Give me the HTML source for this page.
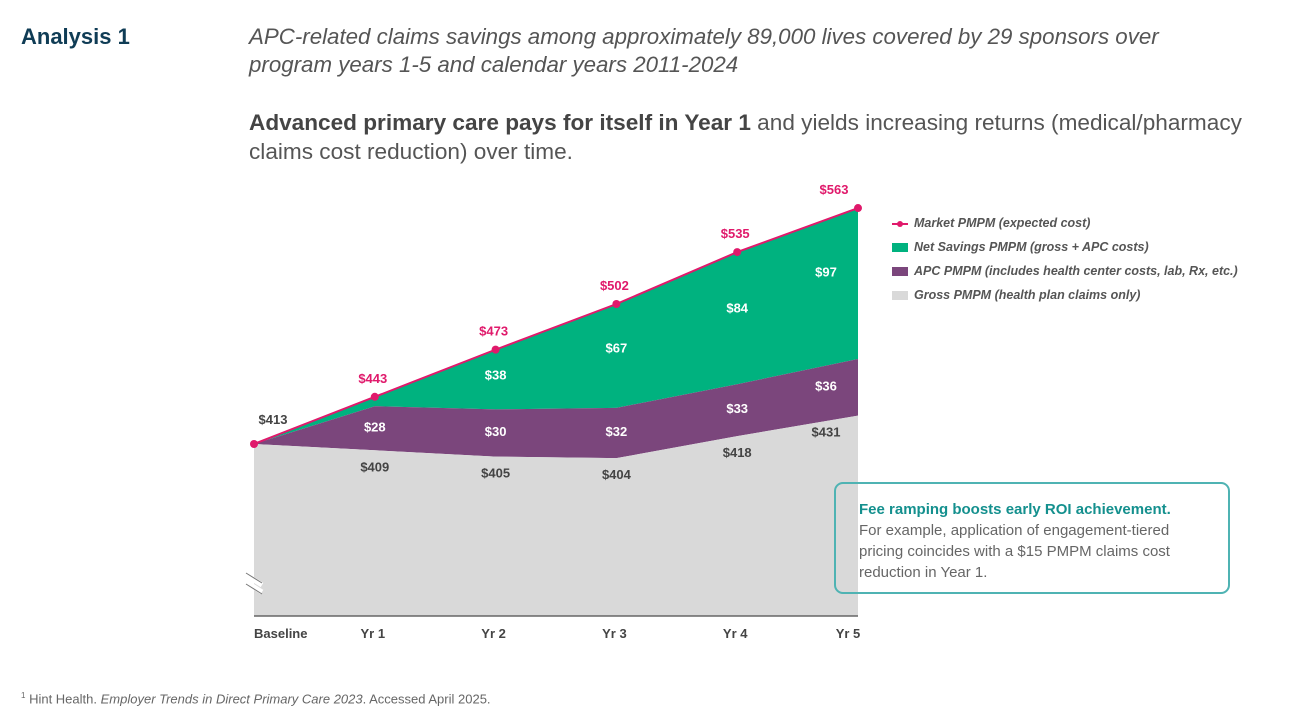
<!DOCTYPE html>
<html><head><meta charset="utf-8"><style>
body{margin:0;width:1292px;height:721px;background:#fff;font-family:"Liberation Sans",sans-serif;position:relative;overflow:hidden}
.abs{position:absolute}
</style></head><body>
<div class="abs" style="left:21px;top:24px;font-size:22px;font-weight:bold;color:#0f3c55">Analysis 1</div>
<div class="abs" style="left:249px;top:23px;font-size:22.3px;font-style:italic;color:#555;line-height:28px;width:930px">APC-related claims savings among approximately 89,000 lives covered by 29 sponsors over program years 1-5 and calendar years 2011-2024</div>
<div class="abs" style="left:249px;top:108px;font-size:22.6px;color:#555;line-height:29px;width:1010px"><b style="color:#444">Advanced primary care pays for itself in Year 1</b> and yields increasing returns (medical/pharmacy claims cost reduction) over time.</div>
<svg class="abs" style="left:0;top:0" width="1292" height="721" id="chart"></svg>
<div class="abs" style="left:892px;top:211px;font-size:12.5px;font-style:italic;font-weight:bold;color:#555;line-height:24px">
<div><span style="display:inline-block;width:16px;height:2px;background:#e0196b;vertical-align:middle;margin-right:6px;position:relative"><span style="position:absolute;left:5px;top:-2px;width:6px;height:6px;border-radius:3px;background:#e0196b"></span></span>Market PMPM (expected cost)</div>
<div><span style="display:inline-block;width:16px;height:9px;background:#00b27f;vertical-align:middle;margin-right:6px"></span>Net Savings PMPM (gross + APC costs)</div>
<div><span style="display:inline-block;width:16px;height:9px;background:#7b467c;vertical-align:middle;margin-right:6px"></span>APC PMPM (includes health center costs, lab, Rx, etc.)</div>
<div><span style="display:inline-block;width:16px;height:9px;background:#d9d9d9;vertical-align:middle;margin-right:6px"></span>Gross PMPM (health plan claims only)</div>
</div>
<div class="abs" style="left:834px;top:482px;width:396px;height:112px;border:2px solid #4fb3b3;border-radius:9px;box-sizing:border-box;padding:15px 0 0 23px;font-size:15px;color:#666;line-height:21px">
<div style="font-weight:bold;color:#14908e">Fee ramping boosts early ROI achievement.</div><div style="width:345px">For example, application of engagement-tiered pricing coincides with a $15 PMPM claims cost reduction in Year 1.</div></div>
<div class="abs" style="left:21px;top:691px;font-size:13px;color:#666"><sup style="font-size:8px">1</sup> Hint Health. <i>Employer Trends in Direct Primary Care 2023</i>. Accessed April 2025.</div>
<script>
const categories=["Baseline","Yr 1","Yr 2","Yr 3","Yr 4","Yr 5"];
const market=[413,443,473,502,535,563];
const gross=[413,409,405,404,418,431];
const apc=[0,28,30,32,33,36];
const net=[null,null,38,67,84,97];
const svg=document.getElementById('chart');const NS='http://www.w3.org/2000/svg';
const x=i=>254+i*120.8;
const lx=i=>i===5?x(i)-32:x(i);
const y=v=>444-(v-413)*1.573;
const bottom=616;
function el(t,a,txt){const e=document.createElementNS(NS,t);for(const k in a)e.setAttribute(k,a[k]);if(txt!=null)e.textContent=txt;svg.appendChild(e);return e;}
const top2=gross.map((g,i)=>g+apc[i]);
const pts=(arr)=>arr.map((v,i)=>x(i)+','+y(v)).join(' ');
const revPts=(arr)=>arr.map((v,i)=>[x(i),y(v)]).reverse().map(p=>p.join(',')).join(' ');
let e=el('polygon',{points:pts(market)+' '+revPts(top2),fill:'#00b27f'});

e=el('polygon',{points:pts(top2)+' '+revPts(gross),fill:'#7b467c'});

e=el('polygon',{points:pts(gross)+' '+x(5)+','+bottom+' '+x(0)+','+bottom,fill:'#d9d9d9'});

e=el('line',{x1:x(0),x2:x(5),y1:bottom,y2:bottom,stroke:'#666','stroke-width':1.5});

e=el('path',{d:'M246,575 L262,585 M246,582 L262,592',stroke:'#fff','stroke-width':5});

e=el('path',{d:'M246,573 L262,583 M246,584 L262,594',stroke:'#777','stroke-width':1});

e=el('polyline',{points:pts(market),fill:'none',stroke:'#e0196b','stroke-width':2});

const lbl=(X,Y,t,c,name,anchor)=>{const q=el('text',{x:X,y:Y,'text-anchor':anchor||'middle','font-size':13,'font-weight':'bold',fill:c,'font-family':'Liberation Sans, sans-serif'},t);};
market.forEach((v,i)=>{
  const d=el('circle',{cx:x(i),cy:y(v),r:4,fill:'#e0196b'});
  
  if(i===0)lbl(x(i)+19,y(v)-20,'$'+v,'#444','market-label');
  else lbl(i===5?x(i)-24:x(i)-2,y(v)-14,'$'+v,'#e0196b','market-label');
});
gross.forEach((v,i)=>{if(i>0)lbl(lx(i),y(v)+21,'$'+v,'#444','gross-label');});
apc.forEach((v,i)=>{if(i>0)lbl(lx(i),(y(gross[i])+y(top2[i]))/2+3,'$'+v,'#fff','apc-label');});
net.forEach((v,i)=>{if(v!=null)lbl(lx(i),y(market[i])+(y(top2[i])-y(market[i]))*0.42+5,'$'+v,'#fff','net-label');});
categories.forEach((c,i)=>lbl(i===0?x(0):lx(i)-2+(i===5?24:0),638,c,'#444','x-tick-label',i===0?'start':'middle'));
</script>
</body></html>
